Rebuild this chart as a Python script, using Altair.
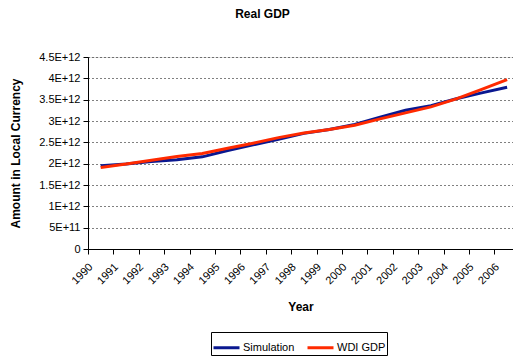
import altair as alt
import pandas as pd

# Real GDP in local currency units, 1990-2006
years = list(range(1990, 2007))
simulation = [1.95e12, 1.99e12, 2.05e12, 2.09e12, 2.16e12, 2.31e12, 2.44e12, 2.57e12,
              2.71e12, 2.80e12, 2.92e12, 3.09e12, 3.25e12, 3.36e12, 3.52e12, 3.66e12, 3.79e12]
wdi_gdp = [1.91e12, 1.99e12, 2.08e12, 2.17e12, 2.24e12, 2.36e12, 2.48e12, 2.61e12,
           2.72e12, 2.80e12, 2.90e12, 3.05e12, 3.19e12, 3.33e12, 3.52e12, 3.74e12, 3.97e12]
series_names = ["Simulation", "WDI GDP"]
series_colors = ["#0A1890", "#FF2A00"]
y_ticks = [i * 0.5e12 for i in range(10)]
tick_edges = [y - 0.5 for y in years]

df = pd.DataFrame({
    "Year": years * 2,
    "Value": simulation + wdi_gdp,
    "Series": [series_names[0]] * len(years) + [series_names[1]] * len(years),
})

FONT = "Liberation Sans"
x_domain = [1989.5, 1989.5 + 425 / 25.4]

sci_label = (
    "datum.value == 0 ? '0' : "
    "format(datum.value / pow(10, floor(log(datum.value) / LN10 + 1e-9)), '.2~f')"
    " + 'E+' + floor(log(datum.value) / LN10 + 1e-9)"
)

lines = alt.Chart(df).mark_line(strokeWidth=3).encode(
    x=alt.X(
        "Year:Q",
        scale=alt.Scale(domain=x_domain, nice=False, zero=False),
        axis=alt.Axis(
            orient="bottom", values=years, format="d", labelAngle=-45,
            labelAlign="right", labelBaseline="middle", ticks=False, grid=False,
            domain=True, domainColor="black", labelPadding=16, labelOffset=-10,
            labelFontSize=11, labelColor="black", labelFont=FONT, title="Year",
            titleFont=FONT, titleFontSize=12, titleFontWeight="bold",
            titlePadding=16, titleColor="black", labelOverlap=False,
        ),
    ),
    y=alt.Y(
        "Value:Q",
        scale=alt.Scale(domain=[0, 4.5e12], nice=False),
        axis=alt.Axis(
            values=y_ticks, labelExpr=sci_label, grid=True, gridColor="black",
            gridDash=[1, 3], gridWidth=1, domainColor="black", tickColor="black",
            tickSize=5, labelPadding=3, labelFontSize=11, labelColor="black",
            labelFont=FONT, title="Amount in Local Currency", titleFont=FONT,
            titleFontSize=12, titleFontWeight="bold", titlePadding=16,
            titleColor="black",
        ),
    ),
    color=alt.Color(
        "Series:N",
        scale=alt.Scale(domain=series_names, range=series_colors),
        legend=alt.Legend(
            title=None, orient="none", direction="horizontal",
            legendX=123, legendY=275, strokeColor="black", padding=1,
            symbolType="stroke", symbolSize=676, symbolStrokeWidth=3,
            labelFont=FONT, labelFontSize=11, labelColor="black",
            columnPadding=6, labelOffset=2,
        ),
    ),
)

edge_df = pd.DataFrame({"Edge": tick_edges})
edge_ticks = alt.Chart(edge_df).mark_point(opacity=0).encode(
    x=alt.X(
        "Edge:Q",
        scale=alt.Scale(domain=x_domain, nice=False, zero=False),
        axis=alt.Axis(
            orient="bottom", values=tick_edges, labels=False, ticks=True,
            tickSize=5, tickColor="black", grid=False, domain=False, title=None,
        ),
    ),
    y=alt.value(0),
)

chart = alt.layer(lines, edge_ticks).resolve_axis(x="independent").resolve_scale(
    x="shared"
).properties(
    width=425,
    height=192,
    title=alt.TitleParams("Real GDP", font=FONT, fontSize=12, fontWeight="bold",
                          anchor="middle", dx=-38, offset=30, color="black"),
    autosize=alt.AutoSizeParams(type="none"),
    padding={"left": 88, "top": 57, "right": 0, "bottom": 109},
).configure_view(stroke=None).configure(background="white")

chart.save("out.html", embed_options={"renderer": "svg", "actions": False})
